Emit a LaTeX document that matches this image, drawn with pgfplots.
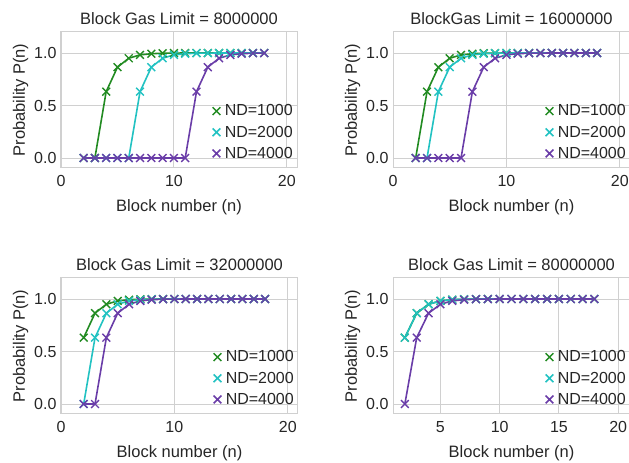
\documentclass[border=0pt]{standalone}
\usepackage{pgfplots}
\usepackage{pgfplotstable}
\pgfplotsset{compat=1.18}
\usepackage{fontspec}
\setmainfont{Liberation Sans}
\definecolor{cg}{HTML}{228B22}
\definecolor{cc}{HTML}{22C2C2}
\definecolor{cp}{HTML}{6A3DA8}
\definecolor{gridc}{HTML}{D0D0D0}
\definecolor{txt}{HTML}{262626}

\pgfplotstableread{
x a b c
2 0 0 0
3 0 0 0
4 0.632 0 0
5 0.865 0 0
6 0.950 0 0
7 0.982 0.632 0
8 0.993 0.865 0
9 0.998 0.950 0
10 0.999 0.982 0
11 1.000 0.993 0
12 1.000 0.998 0.632
13 1.000 0.999 0.865
14 1.000 1.000 0.950
15 1.000 1.000 0.982
16 1.000 1.000 0.993
17 1.000 1.000 0.998
18 1.000 1.000 0.999
}\tA
\pgfplotstableread{
x a b c
2 0 0 0
3 0.632 0 0
4 0.865 0.632 0
5 0.950 0.865 0
6 0.982 0.950 0
7 0.993 0.982 0.632
8 0.998 0.993 0.865
9 0.999 0.998 0.950
10 1.000 0.999 0.982
11 1.000 1.000 0.993
12 1.000 1.000 0.998
13 1.000 1.000 0.999
14 1.000 1.000 1.000
15 1.000 1.000 1.000
16 1.000 1.000 1.000
17 1.000 1.000 1.000
18 1.000 1.000 1.000
}\tB
\pgfplotstableread{
x a b c
2 0.632 0 0
3 0.865 0.632 0
4 0.950 0.865 0.632
5 0.982 0.950 0.865
6 0.993 0.982 0.950
7 0.998 0.993 0.982
8 0.999 0.998 0.993
9 1.000 0.999 0.998
10 1.000 1.000 0.999
11 1.000 1.000 1.000
12 1.000 1.000 1.000
13 1.000 1.000 1.000
14 1.000 1.000 1.000
15 1.000 1.000 1.000
16 1.000 1.000 1.000
17 1.000 1.000 1.000
18 1.000 1.000 1.000
}\tC
\pgfplotstableread{
x a b c
2 0.632 0.632 0
3 0.865 0.865 0.632
4 0.950 0.950 0.865
5 0.982 0.982 0.950
6 0.993 0.993 0.982
7 0.998 0.998 0.993
8 0.999 0.999 0.998
9 1.000 1.000 0.999
10 1.000 1.000 1.000
11 1.000 1.000 1.000
12 1.000 1.000 1.000
13 1.000 1.000 1.000
14 1.000 1.000 1.000
15 1.000 1.000 1.000
16 1.000 1.000 1.000
17 1.000 1.000 1.000
18 1.000 1.000 1.000
}\tD

\pgfplotsset{
  panel/.style={
    scale only axis,
    height=136pt,
    ymin=-0.095, ymax=1.2,
    ytick={0,0.5,1},
    yticklabels={0.0,0.5,1.0},
    /pgf/number format/assume math mode=true,
    axis line style={gridc, line width=1pt},
    grid=major,
    major grid style={gridc, line width=0.9pt},
    tick style={draw=none},
    ticklabel style={font=\fontsize{16}{18}\selectfont, text=txt},
    xticklabel style={yshift=-4pt},
    yticklabel style={xshift=-1pt},
    label style={font=\fontsize{16.5}{19}\selectfont, text=txt},
    title style={font=\fontsize{16.5}{19}\selectfont, text=txt, yshift=-2pt},
    xlabel={Block number (n)},
    ylabel={Probability P(n)},
    xlabel style={yshift=-6pt},
    ylabel style={yshift=-1pt},
    legend style={draw=none, fill=none, at={(1,0)}, anchor=south east,
      font=\fontsize{16}{18}\selectfont, text=txt, row sep=4.5pt,
      inner sep=1pt, xshift=-1pt, yshift=5pt,
      nodes={inner xsep=2pt}},
    legend cell align=left,
    legend image code/.code={\draw[##1, only marks, mark size=5.5pt, every mark/.append style={line width=1.5pt}] plot coordinates {(0.2cm,0cm)}; \path[draw=none] (0.2cm,0cm) -- (0.42cm,0cm);},
    every axis plot/.append style={line width=1.6pt, mark=x, mark size=5.5pt,
      every mark/.append style={line width=1.4pt}},
  }
}

\begin{document}
\begin{tikzpicture}
\useasboundingbox (0,0) rectangle (629pt,463pt);
% panel 1
\begin{axis}[panel, at={(61pt,431pt)}, anchor=north west, width=236pt,
  xmin=0, xmax=20.9, xtick={0,10,20},
  title={Block Gas Limit = 8000000}]
\addplot[cg] table[x=x,y=a] {\tA};
\addplot[cc] table[x=x,y=b] {\tA};
\addplot[cp] table[x=x,y=c] {\tA};
\legend{ND=1000,ND=2000,ND=4000}
\end{axis}
% panel 2
\begin{axis}[panel, at={(393pt,431pt)}, anchor=north west, width=237pt,
  xmin=0, xmax=20.9, xtick={0,10,20},
  title={BlockGas Limit = 16000000}]
\addplot[cg] table[x=x,y=a] {\tB};
\addplot[cc] table[x=x,y=b] {\tB};
\addplot[cp] table[x=x,y=c] {\tB};
\legend{ND=1000,ND=2000,ND=4000}
\end{axis}
% panel 3
\begin{axis}[panel, at={(61pt,185pt)}, anchor=north west, width=237pt,
  xmin=0, xmax=20.9, xtick={0,10,20},
  title={Block Gas Limit = 32000000}]
\addplot[cg] table[x=x,y=a] {\tC};
\addplot[cc] table[x=x,y=b] {\tC};
\addplot[cp] table[x=x,y=c] {\tC};
\legend{ND=1000,ND=2000,ND=4000}
\end{axis}
% panel 4
\begin{axis}[panel, at={(393pt,185pt)}, anchor=north west, width=237pt,
  xmin=1.0, xmax=21.0, xtick={5,10,15,20},
  title={Block Gas Limit = 80000000}]
\addplot[cg] table[x=x,y=a] {\tD};
\addplot[cc] table[x=x,y=b] {\tD};
\addplot[cp] table[x=x,y=c] {\tD};
\legend{ND=1000,ND=2000,ND=4000}
\end{axis}
\end{tikzpicture}
\end{document}
